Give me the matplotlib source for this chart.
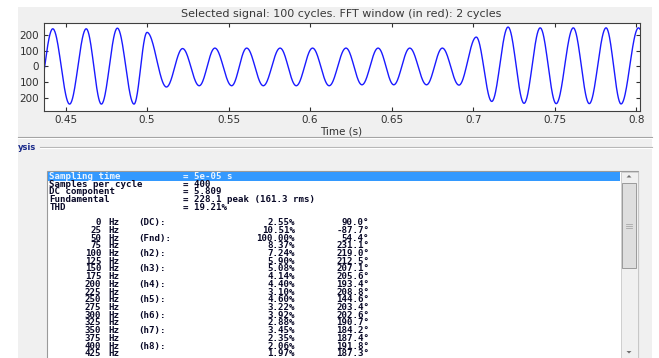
import re

import numpy as np
import matplotlib
matplotlib.use('Agg')
import matplotlib.pyplot as plt
from matplotlib.patches import Rectangle, Polygon

# extrema of the selected signal (time in s, value)
peak_times = [0.4322, 0.4422, 0.4525, 0.4627, 0.4720, 0.4818, 0.4920, 0.5000,
              0.5119, 0.5218, 0.5320, 0.5416, 0.5519, 0.5611, 0.5713, 0.5816,
              0.5915, 0.6015, 0.6117, 0.6220, 0.6318, 0.6417, 0.6513, 0.6611,
              0.6714, 0.6811, 0.6913, 0.7019, 0.7114, 0.7214, 0.7312, 0.7411,
              0.7509, 0.7614, 0.7712, 0.7815, 0.7907, 0.8014, 0.8110]
peak_values = [-241, 239, -241, 239, -241, 243, -241, 216,
               -132, 113, -124, 116, -124, 116, -124, 116,
               -124, 116, -124, 116, -118, 116, -118, 116,
               -118, 116, -120, 186, -224, 250, -236, 245,
               -238, 245, -238, 245, -240, 245, -240]

title = 'Selected signal: 100 cycles. FFT window (in red): 2 cycles'
xticks = [0.45, 0.5, 0.55, 0.6, 0.65, 0.7, 0.75, 0.8]
yticks = [200, 100, 0, -100, -200]
ytick_labels = ['200', '100', '0', '100', '200']

# FFT analysis listing
header = [('Sampling time', '5e-05 s'),
          ('Samples per cycle', '400'),
          ('DC component', '5.809'),
          ('Fundamental', '228.1 peak (161.3 rms)'),
          ('THD', '19.21%')]
freqs = [0, 25, 50, 75, 100, 125, 150, 175, 200, 225, 250, 275, 300, 325,
         350, 375, 400, 425]
harm_labels = {0: '(DC):', 50: '(Fnd):', 100: '(h2):', 150: '(h3):',
               200: '(h4):', 250: '(h5):', 300: '(h6):', 350: '(h7):',
               400: '(h8):'}
percents = [2.55, 10.51, 100.00, 8.37, 7.24, 5.90, 5.08, 4.14, 4.40, 3.10,
            4.60, 3.22, 3.92, 2.88, 3.45, 2.35, 2.06, 1.97]
phases = [90.0, -87.7, 54.4, 231.1, 219.0, 212.5, 207.1, 205.6, 193.4, 208.8,
          144.6, 203.4, 202.6, 190.7, 184.2, 187.4, 191.8, 187.3]

W, H = 659, 358
fig = plt.figure(figsize=(W / 100, H / 100), dpi=100, facecolor='white')

# background "window" drawn in pixel coordinates
bg = fig.add_axes([0, 0, 1, 1])
bg.set_xlim(0, W)
bg.set_ylim(H, 0)
bg.axis('off')
bg.add_patch(Rectangle((18, 7), 634, 352, facecolor='#f0f0f0', edgecolor='none'))
bg.plot([18, 652], [136.5, 136.5], color='#a0a0a0', lw=0.8)
bg.plot([18, 652], [137.5, 137.5], color='white', lw=0.8)
bg.text(18, 147, 'ysis', color='#1a2a8a', fontsize=6, fontweight='bold',
        va='center', ha='left')
bg.plot([40, 652], [146.5, 146.5], color='#b4b4b4', lw=0.8)
bg.plot([40, 652], [147.5, 147.5], color='white', lw=0.8)

# listbox
bg.add_patch(Rectangle((47, 171), 591, 200, facecolor='white',
                       edgecolor='#9a9a9a', lw=0.8))
bg.add_patch(Rectangle((48, 172), 572, 8.5, facecolor='#3399ff', edgecolor='none'))
bg.add_patch(Rectangle((620.5, 172), 17, 200, facecolor='#f0f0f0',
                       edgecolor='#c8c8c8', lw=0.6))
bg.add_patch(Rectangle((622, 183), 14, 85, facecolor='#dedede',
                       edgecolor='#9a9a9a', lw=0.7))
for gy in (223.5, 225.5, 227.5):
    bg.plot([626, 632], [gy, gy], color='#a8a8a8', lw=0.6)
bg.add_patch(Polygon([(626.5, 177.5), (631.5, 177.5), (629, 175)],
                     facecolor='#707070', edgecolor='none'))
bg.add_patch(Polygon([(626.5, 351), (631.5, 351), (629, 353.5)],
                     facecolor='#707070', edgecolor='none'))

# signal axes
ax = fig.add_axes([43.5 / W, 1 - 111.3 / H, (639.5 - 43.5) / W, (111.3 - 23) / H])
ax.set_facecolor('white')

# half-cosine between the read extrema gives the sinusoid shape
t_all, y_all = [], []
for i in range(len(peak_times) - 1):
    u = np.linspace(0, 1, 40)
    t_all.append(peak_times[i] + (peak_times[i + 1] - peak_times[i]) * u)
    y_all.append(peak_values[i] + (peak_values[i + 1] - peak_values[i])
                 * (1 - np.cos(np.pi * u)) / 2)
ax.plot(np.concatenate(t_all), np.concatenate(y_all), color='#1a1aff', lw=1.0)

ax.set_xlim(0.4365, 0.8020)
ax.set_ylim(-287, 276)
ax.set_xticks(xticks)
ax.set_xticklabels(['%g' % v for v in xticks])
ax.set_yticks(yticks)
ax.set_yticklabels(ytick_labels)
ax.tick_params(direction='in', length=3, width=0.8, top=True, right=True,
               labelsize=7.5, labelcolor='#303030', color='#303030', pad=3)
for s in ax.spines.values():
    s.set_color('#404040')
    s.set_linewidth(0.8)
ax.set_title(title, fontsize=8, color='#383838', pad=4)
ax.set_xlabel('Time (s)', fontsize=7.5, color='#303030', labelpad=1)

# listing text, laid out on monospace columns
col_w = 7.44
x0 = 49.3
row_h = 7.72
txt_kw = dict(va='center', fontsize=6.6, family='DejaVu Sans Mono',
              fontweight='bold', clip_on=True)

for i, (name, val) in enumerate(header):
    y = 176.3 + i * row_h
    color = '#eaf4ff' if i == 0 else '#0a0a28'
    bg.text(x0, y, name, ha='left', color=color, **txt_kw)
    bg.text(x0 + 18 * col_w, y, '= ' + val, ha='left', color=color, **txt_kw)

first = len(header) + 1
for i, (f, p, a) in enumerate(zip(freqs, percents, phases)):
    y = 176.3 + (first + i) * row_h
    line = '%7d Hz  %-6s%15s%9.1f°' % (f, harm_labels.get(f, ''),
                                       '%.2f%%' % p, a)
    for m in re.finditer(r'\S+', line):
        tok = m.group()
        if tok[0].isalpha() or tok[0] == '(':
            xp, ha = x0 + m.start() * col_w, 'left'
        else:
            xp, ha = x0 + m.end() * col_w, 'right'
        bg.text(xp, y, tok, ha=ha, color='#0a0a28', **txt_kw)

bg.set_zorder(0)
ax.set_zorder(1)
fig.savefig('out.png', dpi=100, facecolor='white')
